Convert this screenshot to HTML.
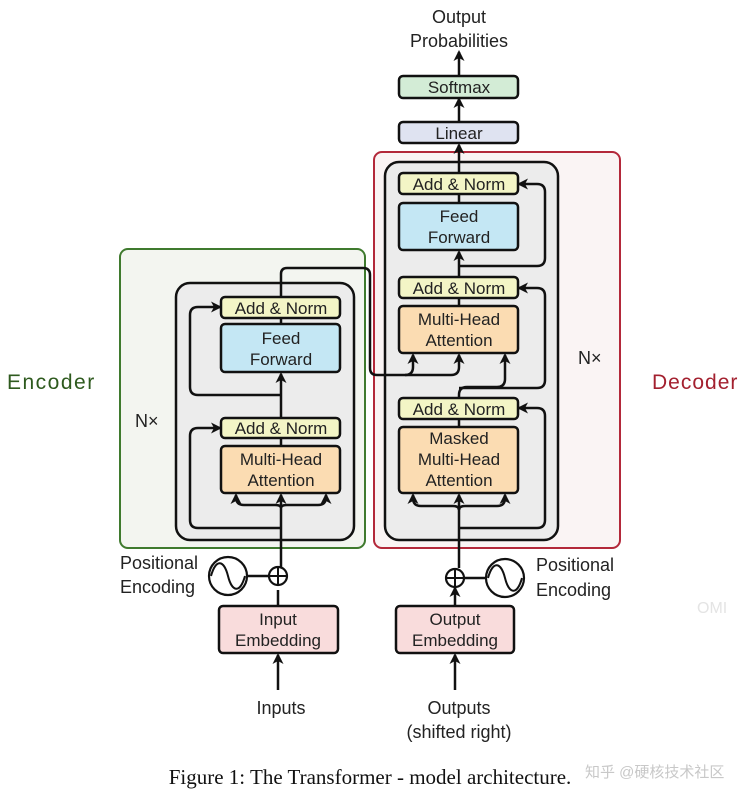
<!DOCTYPE html>
<html><head><meta charset="utf-8"><style>
html,body{margin:0;padding:0;background:#fff;}
svg{display:block;}
text{font-family:"Liberation Sans",sans-serif;fill:#222;}
</style></head><body>
<svg width="749" height="800" viewBox="0 0 749 800" xmlns="http://www.w3.org/2000/svg">
<defs>
<marker id="a" markerWidth="11" markerHeight="11" refX="9" refY="5.5" orient="auto" markerUnits="userSpaceOnUse">
<path d="M0,0 L11,5.5 L0,11 L3,5.5 Z" fill="#111"/></marker>
</defs>
<rect x="120" y="249" width="245" height="299" rx="8" fill="#f3f5f0" stroke="#3f7a2e" stroke-width="2"/>
<rect x="374" y="152" width="246" height="396" rx="8" fill="#faf4f4" stroke="#b3283a" stroke-width="2"/>
<rect x="176" y="283" width="178" height="257" rx="14" fill="#ececec" stroke="#111" stroke-width="2.5"/>
<rect x="385" y="162" width="173" height="378" rx="14" fill="#ececec" stroke="#111" stroke-width="2.5"/>

<g stroke="#111" stroke-width="2.5" fill="none">
<line x1="278" y1="653" x2="278" y2="590" />
<line x1="281" y1="567" x2="281" y2="508"/>
<path d="M281,508 V495" marker-end="url(#a)"/>
<path d="M281,508 Q281,505 275,505 H244 Q236,505 236,497 V495" marker-end="url(#a)"/>
<path d="M281,508 Q281,505 287,505 H318 Q326,505 326,497 V495" marker-end="url(#a)"/>
<line x1="281" y1="446" x2="281" y2="438"/>
<path d="M281,418 V374" marker-end="url(#a)"/>
<line x1="281" y1="324" x2="281" y2="318"/>
<path d="M281,528 H198 Q190,528 190,520 V436 Q190,428 198,428 H220" marker-end="url(#a)"/>
<path d="M281,395 H198 Q190,395 190,387 V315 Q190,307 198,307 H220" marker-end="url(#a)"/>
<path d="M281,297 V274 Q281,268 287,268 H363 Q370,268 370,275 V368 Q370,375 377,375 H405 Q413,375 413,367 V355" marker-end="url(#a)"/>
<path d="M405,375 H451 Q459,375 459,367 V355" marker-end="url(#a)"/>
<line x1="455" y1="653" x2="455" y2="648"/>
<path d="M455,606 V588" marker-end="url(#a)"/>
<line x1="459" y1="568" x2="459" y2="508"/>
<path d="M459,510 V495" marker-end="url(#a)"/>
<path d="M459,510 Q459,506 453,506 H421 Q413,506 413,498 V495" marker-end="url(#a)"/>
<path d="M459,510 Q459,506 465,506 H497 Q505,506 505,498 V495" marker-end="url(#a)"/>
<line x1="459" y1="427" x2="459" y2="419"/>
<path d="M459,398 V395 Q459,387 467,387 H497 Q505,387 505,379 V355" marker-end="url(#a)"/>
<line x1="459" y1="306" x2="459" y2="298"/>
<path d="M459,277 V252" marker-end="url(#a)"/>
<line x1="459" y1="203" x2="459" y2="194"/>
<path d="M459,173 V145" marker-end="url(#a)"/>
<path d="M459,122 V99" marker-end="url(#a)"/>
<path d="M459,76 V52" marker-end="url(#a)"/>
<path d="M459,528 H537 Q545,528 545,520 V416 Q545,408 537,408 H519" marker-end="url(#a)"/>
<path d="M459,388 H537 Q545,388 545,380 V296 Q545,288 537,288 H519" marker-end="url(#a)"/>
<path d="M459,266 H537 Q545,266 545,258 V192 Q545,184 537,184 H519" marker-end="url(#a)"/>
<path d="M278,690 V655" marker-end="url(#a)"/>
<path d="M455,690 V655" marker-end="url(#a)"/>
<line x1="247" y1="576" x2="269" y2="576"/>
<line x1="464" y1="578" x2="486" y2="578"/>
</g>
<g stroke="#111" stroke-width="2.2" fill="#fff">
<circle cx="278" cy="576" r="9"/>
<circle cx="455" cy="578" r="9"/>
<circle cx="228" cy="576" r="19"/>
<circle cx="505" cy="578" r="19"/>
</g>
<g stroke="#111" stroke-width="2" fill="none">
<path d="M269,576 H287 M278,567 V585"/>
<path d="M446,578 H464 M455,569 V587"/>
<path d="M211,576 C216,558 224,560 228,576 C232,592 240,594 245,576"/>
<path d="M488,578 C493,560 501,562 505,578 C509,594 517,596 522,578"/>
</g>

<g stroke="#111" stroke-width="2.5">
<rect x="221" y="297" width="119" height="21" rx="4" fill="#f3f5c6"/>
<rect x="221" y="324" width="119" height="48" rx="4" fill="#c4e7f4"/>
<rect x="221" y="418" width="119" height="20" rx="4" fill="#f3f5c6"/>
<rect x="221" y="446" width="119" height="47" rx="4" fill="#fbdcb2"/>
<rect x="219" y="606" width="119" height="47" rx="4" fill="#f9dcdc"/>
<rect x="399" y="173" width="119" height="21" rx="4" fill="#f3f5c6"/>
<rect x="399" y="203" width="119" height="47" rx="4" fill="#c4e7f4"/>
<rect x="399" y="277" width="119" height="21" rx="4" fill="#f3f5c6"/>
<rect x="399" y="306" width="119" height="47" rx="4" fill="#fbdcb2"/>
<rect x="399" y="398" width="119" height="21" rx="4" fill="#f3f5c6"/>
<rect x="399" y="427" width="119" height="66" rx="4" fill="#fbdcb2"/>
<rect x="396" y="606" width="118" height="47" rx="4" fill="#f9dcdc"/>
<rect x="399" y="122" width="119" height="21" rx="4" fill="#dfe3f1"/>
<rect x="399" y="76" width="119" height="22" rx="4" fill="#d3ecd6"/>
</g>
<g font-size="17" text-anchor="middle">
<text x="281" y="314">Add &amp; Norm</text>
<text x="281" y="344">Feed</text><text x="281" y="365">Forward</text>
<text x="281" y="434">Add &amp; Norm</text>
<text x="281" y="465">Multi-Head</text><text x="281" y="486">Attention</text>
<text x="278" y="625">Input</text><text x="278" y="646">Embedding</text>
<text x="459" y="190">Add &amp; Norm</text>
<text x="459" y="222">Feed</text><text x="459" y="243">Forward</text>
<text x="459" y="294">Add &amp; Norm</text>
<text x="459" y="325">Multi-Head</text><text x="459" y="346">Attention</text>
<text x="459" y="415">Add &amp; Norm</text>
<text x="459" y="444">Masked</text><text x="459" y="465">Multi-Head</text><text x="459" y="486">Attention</text>
<text x="455" y="625">Output</text><text x="455" y="646">Embedding</text>
<text x="459" y="139">Linear</text>
<text x="459" y="93">Softmax</text>
<text x="459" y="23" font-size="18">Output</text>
<text x="459" y="47" font-size="18">Probabilities</text>
<text x="281" y="714" font-size="18">Inputs</text>
<text x="459" y="714" font-size="18">Outputs</text>
<text x="459" y="738" font-size="18">(shifted right)</text>
</g>
<g font-size="18">
<text x="120" y="569">Positional</text><text x="120" y="593">Encoding</text>
<text x="536" y="571">Positional</text><text x="536" y="596">Encoding</text>
<text x="135" y="427">N×</text>
<text x="578" y="364">N×</text>
</g>
<text x="7" y="389" font-size="21" letter-spacing="1.5" style="fill:#2e5a1e">Encoder</text>
<text x="652" y="389" font-size="21" letter-spacing="1" style="fill:#a3202f">Decoder</text>
<text x="370" y="784" font-size="21" text-anchor="middle" style="font-family:'Liberation Serif',serif;fill:#111">Figure 1: The Transformer - model architecture.</text>
<text x="585" y="777" font-size="15" style="font-family:'Liberation Sans','Noto Sans CJK SC',sans-serif;fill:#c8c8c8">知乎 @硬核技术社区</text>
<text x="697" y="613" font-size="16" style="fill:#e4e4e4">OMI</text>
</svg>
</body></html>
